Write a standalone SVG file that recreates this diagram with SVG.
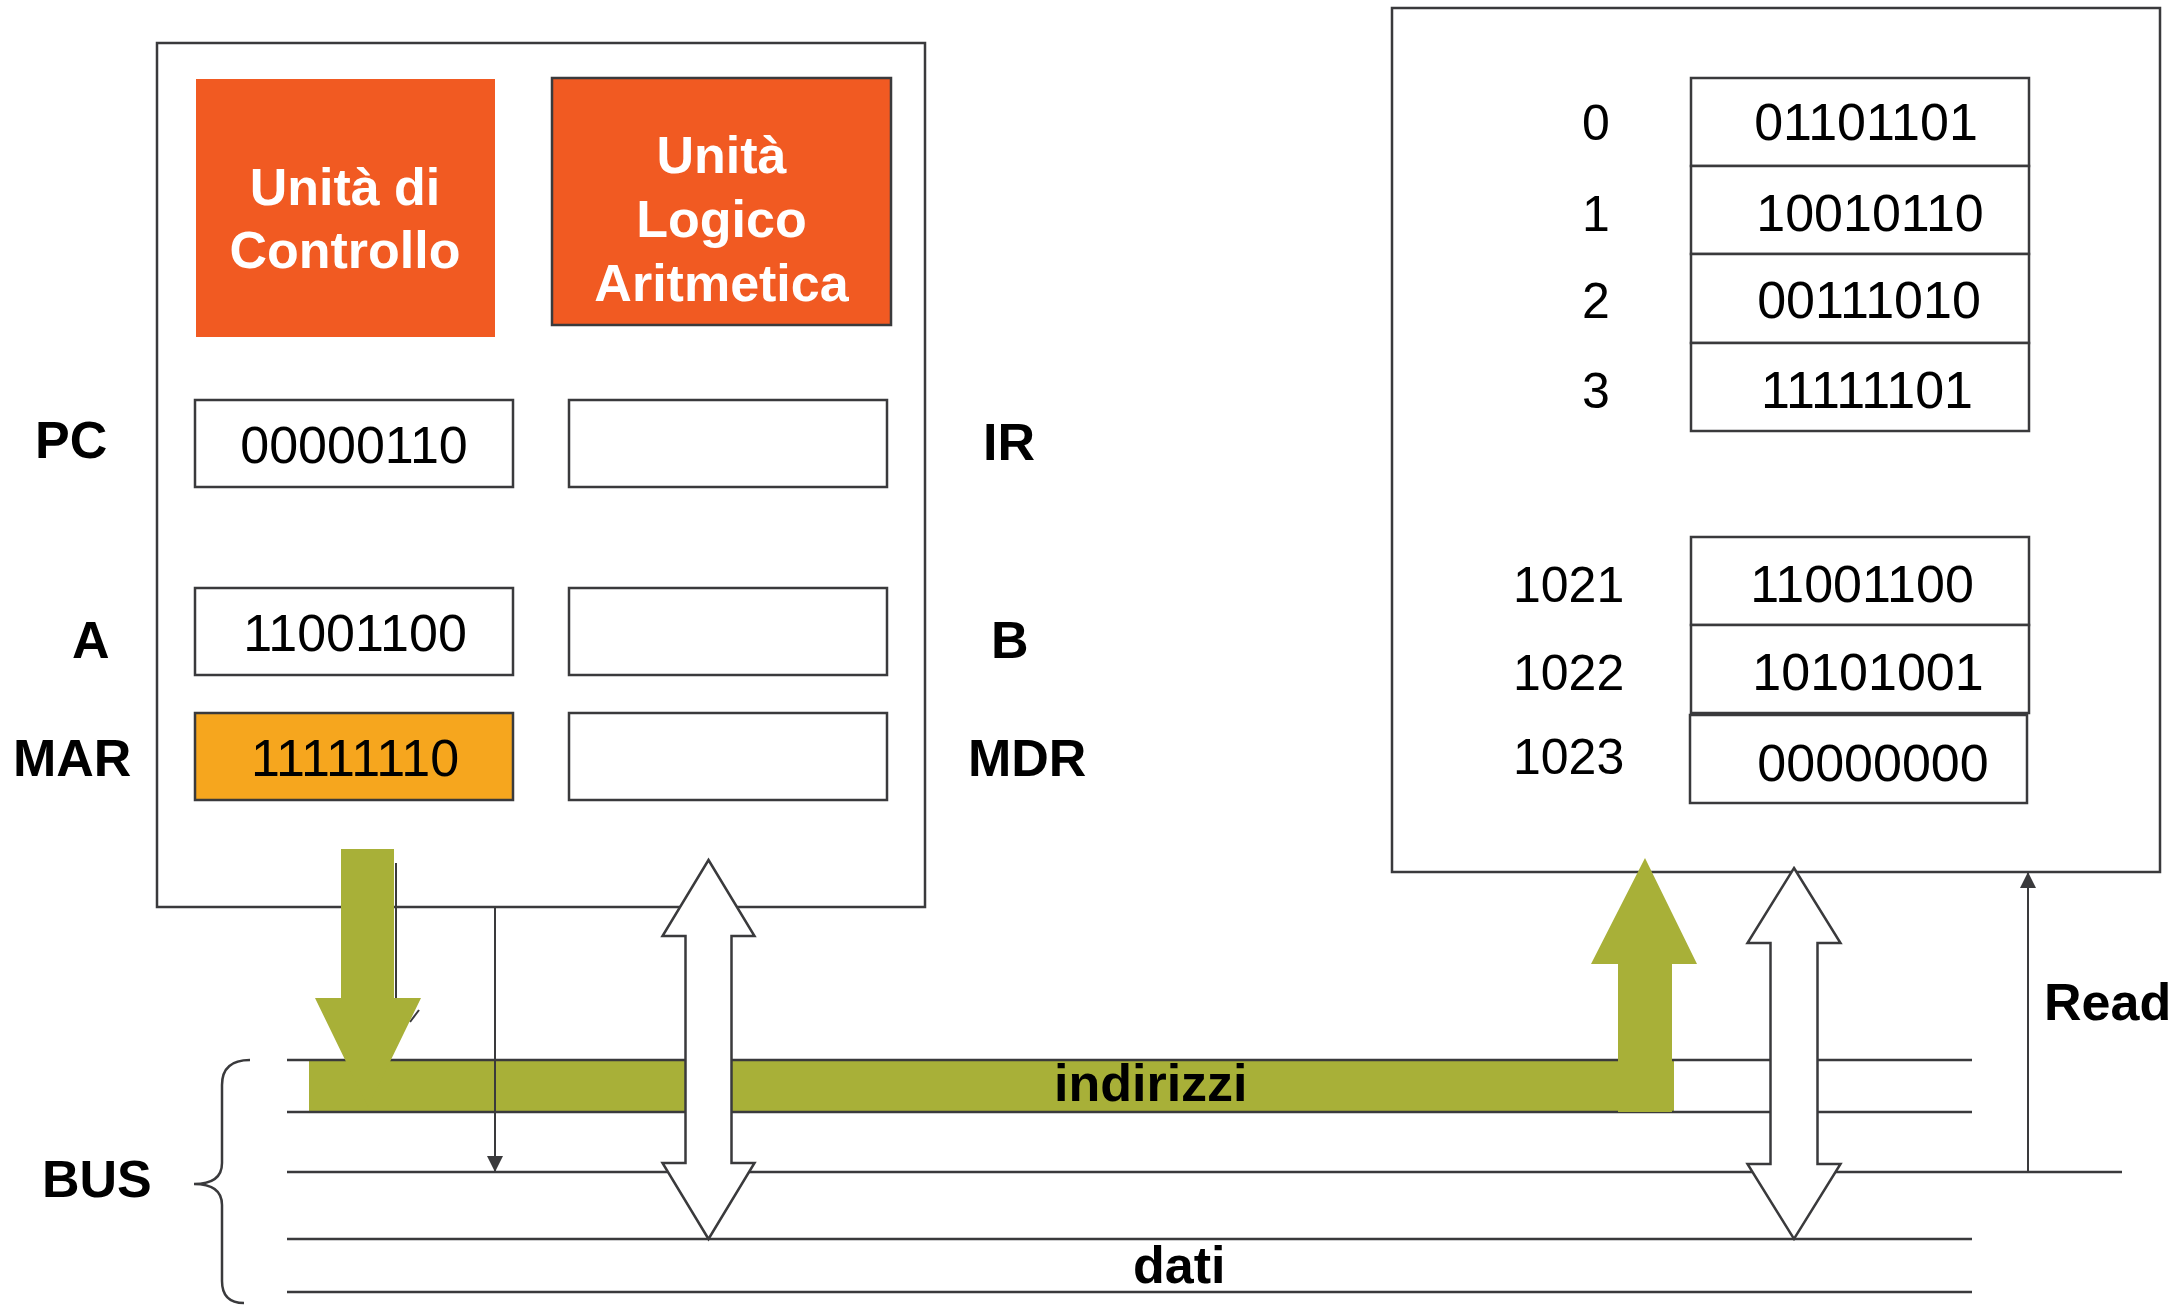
<svg xmlns="http://www.w3.org/2000/svg" width="2181" height="1305" viewBox="0 0 2181 1305">
<defs>
<style>
.box{fill:#ffffff;stroke:#3a3a3c;stroke-width:2.5}
.unit{fill:#f15a22}
.ut{font-family:"Liberation Sans",Arial,sans-serif;font-weight:bold;font-size:52px;fill:#ffffff;text-anchor:middle}
.lbl{font-family:"Liberation Sans",Arial,sans-serif;font-weight:bold;font-size:52px;fill:#000000}
.val{font-family:"Liberation Sans",Arial,sans-serif;font-size:52px;fill:#000000;text-anchor:middle}
.num{font-family:"Liberation Sans",Arial,sans-serif;font-size:50px;fill:#000000}
.bus{stroke:#3a3a3c;stroke-width:2.5;fill:none}
.thin{stroke:#3a3a3c;stroke-width:2;fill:none}
.green{fill:#a8b038}
.dbl{fill:#ffffff;stroke:#3a3a3c;stroke-width:2.5;stroke-linejoin:miter}
</style>
<marker id="ah" viewBox="0 0 16 16" refX="16" refY="8" markerWidth="16" markerHeight="16" markerUnits="userSpaceOnUse" orient="auto">
<path d="M0,0 L16,8 L0,16 Z" fill="#3a3a3c"/>
</marker>
</defs>
<rect width="2181" height="1305" fill="#ffffff"/>

<g id="cpu">
<rect class="box" x="157" y="43" width="768" height="864"/>
</g>
<g id="unita-controllo">
<rect class="unit" x="196" y="79" width="299" height="258"/>
<text class="ut" x="345" y="205">Unità di</text>
<text class="ut" x="345" y="268">Controllo</text>
</g>
<g id="alu">
<rect class="unit" x="552" y="78" width="339" height="247" stroke="#3a3a3c" stroke-width="2.5"/>
<text class="ut" x="721.5" y="173">Unità</text>
<text class="ut" x="721.5" y="237">Logico</text>
<text class="ut" x="721.5" y="301">Aritmetica</text>
</g>
<g id="pc">
<text class="lbl" x="35" y="458">PC</text>
<rect class="box" x="195" y="400" width="318" height="87"/>
<text class="val" x="354" y="463">00000110</text>
</g>
<g id="ir">
<rect class="box" x="569" y="400" width="318" height="87"/>
<text class="lbl" x="983" y="460">IR</text>
</g>
<g id="reg-a">
<text class="lbl" x="72" y="658">A</text>
<rect class="box" x="195" y="588" width="318" height="87"/>
<text class="val" x="355" y="651">11001100</text>
</g>
<g id="reg-b">
<rect class="box" x="569" y="588" width="318" height="87"/>
<text class="lbl" x="991" y="658">B</text>
</g>
<g id="mar">
<text class="lbl" x="13" y="776">MAR</text>
<rect x="195" y="713" width="318" height="87" fill="#f6a61e" stroke="#3a3a3c" stroke-width="2.5"/>
<text class="val" x="355" y="776">11111110</text>
</g>
<g id="mdr">
<rect class="box" x="569" y="713" width="318" height="87"/>
<text class="lbl" x="968" y="776">MDR</text>
</g>

<g id="memory">
<rect class="box" x="1392" y="8" width="768" height="864"/>
<rect class="box" x="1691" y="78" width="338" height="88"/>
<rect class="box" x="1691" y="166" width="338" height="88"/>
<rect class="box" x="1691" y="254" width="338" height="89"/>
<rect class="box" x="1691" y="343" width="338" height="88"/>
<rect class="box" x="1691" y="537" width="338" height="88"/>
<rect class="box" x="1691" y="625" width="338" height="88"/>
<rect class="box" x="1690" y="715" width="337" height="88"/>
<text class="num" x="1596" y="140" text-anchor="middle">0</text>
<text class="num" x="1596" y="231" text-anchor="middle">1</text>
<text class="num" x="1596" y="318" text-anchor="middle">2</text>
<text class="num" x="1596" y="408" text-anchor="middle">3</text>
<text class="num" x="1513" y="602">1021</text>
<text class="num" x="1513" y="690">1022</text>
<text class="num" x="1513" y="774">1023</text>
<text class="val" x="1866" y="140">01101101</text>
<text class="val" x="1870" y="231">10010110</text>
<text class="val" x="1869" y="318">00111010</text>
<text class="val" x="1867" y="408">11111101</text>
<text class="val" x="1862" y="602">11001100</text>
<text class="val" x="1868" y="690">10101001</text>
<text class="val" x="1873" y="781">00000000</text>
</g>

<g id="bus">
<rect class="green" x="309" y="1061" width="1365" height="51"/>
<line class="bus" x1="287" y1="1060" x2="1972" y2="1060"/>
<line class="bus" x1="287" y1="1112" x2="1972" y2="1112"/>
<line class="bus" x1="287" y1="1172" x2="2122" y2="1172"/>
<line class="bus" x1="287" y1="1239" x2="1972" y2="1239"/>
<line class="bus" x1="287" y1="1292" x2="1972" y2="1292"/>
<path class="bus" d="M250,1060 C232,1060 222,1068 222,1085 L222,1163 C222,1177 212,1184 194,1184 C212,1184 222,1191 222,1205 L222,1281 C222,1296 230,1303 244,1303"/>
<text class="lbl" x="42" y="1197" font-size="56">BUS</text>
<text class="lbl" x="1054" y="1101">indirizzi</text>
<text class="lbl" x="1133" y="1283">dati</text>
</g>

<g id="connectors">
<line class="thin" x1="396" y1="863" x2="396" y2="998"/>
<line class="thin" x1="410" y1="1022" x2="419" y2="1010" stroke-width="3"/>
<polygon class="green" points="341,849 394,849 394,998 421,998 368,1107 315,998 341,998"/>
<line class="thin" x1="495" y1="907" x2="495" y2="1172" marker-end="url(#ah)"/>
<polygon class="dbl" points="708.5,860 754.5,936 731.5,936 731.5,1163 754.5,1163 708.5,1239 662.5,1163 685.5,1163 685.5,936 662.5,936"/>
<polygon class="green" points="1618,1112 1618,964 1591,964 1645,858 1697,964 1672,964 1672,1112"/>
<polygon class="dbl" points="1794,868 1840.5,943 1817.5,943 1817.5,1164 1840.5,1164 1794,1239 1747.5,1164 1770.5,1164 1770.5,943 1747.5,943"/>
<line class="thin" x1="2028" y1="1172" x2="2028" y2="872" marker-end="url(#ah)"/>
<text class="lbl" x="2044" y="1020">Read</text>
</g>
</svg>
